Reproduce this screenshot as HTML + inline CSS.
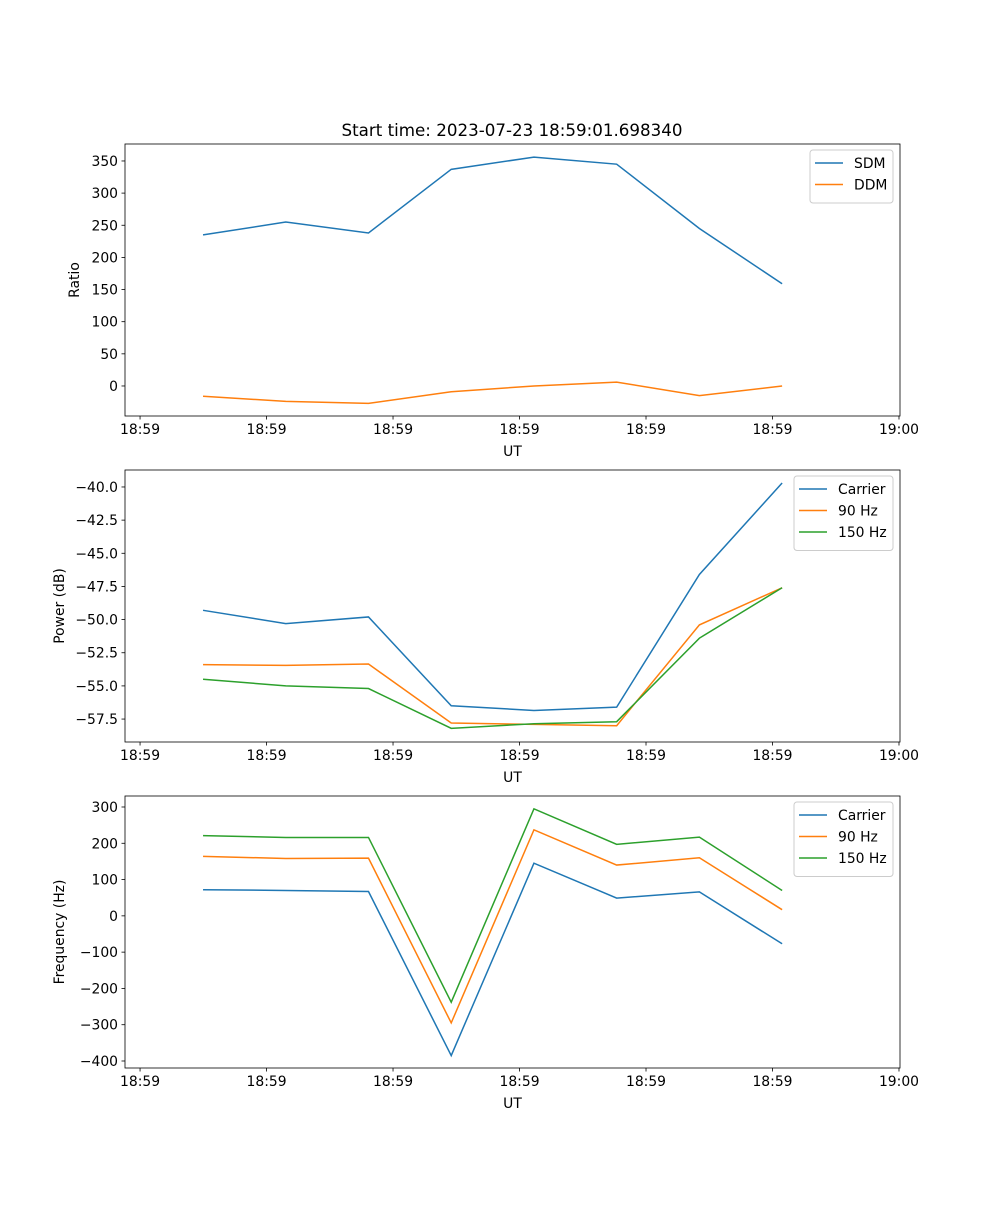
<!DOCTYPE html>
<html><head><meta charset="utf-8">
<style>
body{margin:0;background:#fff;}
svg text{font-family:"DejaVu Sans","Liberation Sans",sans-serif;fill:#000;}
</style></head>
<body>
<svg id="fig" width="1000" height="1200" viewBox="0 0 1000 1200" xmlns="http://www.w3.org/2000/svg">
<text x="512" y="136" font-size="16.7" text-anchor="middle">Start time: 2023-07-23 18:59:01.698340</text>
</svg>
<script>
const times = [4.98, 11.52, 18.06, 24.6, 31.14, 37.68, 44.22, 50.76];
const xTickVals = [0, 10, 20, 30, 40, 50, 60];
const xTickLabels = ["18:59","18:59","18:59","18:59","18:59","18:59","19:00"];
const sdm = [235, 255, 238, 337, 356, 345, 245, 159];
const ddm = [-16, -24, -27, -9, 0, 6, -15, 0];
const powCarrier = [-49.3, -50.3, -49.8, -56.5, -56.85, -56.6, -46.6, -39.7];
const pow90 = [-53.4, -53.45, -53.35, -57.8, -57.9, -58.0, -50.4, -47.6];
const pow150 = [-54.5, -55.0, -55.2, -58.2, -57.85, -57.7, -51.4, -47.6];
const freqCarrier = [72, 70, 67, -385, 145, 49, 66, -77];
const freq90 = [164, 158, 159, -295, 237, 140, 160, 17];
const freq150 = [221, 216, 216, -238, 295, 197, 217, 70];
const ratioTicks = [0, 50, 100, 150, 200, 250, 300, 350];
const powTicks = [-57.5, -55.0, -52.5, -50.0, -47.5, -45.0, -42.5, -40.0];
const freqTicks = [-400, -300, -200, -100, 0, 100, 200, 300];

const NS = "http://www.w3.org/2000/svg";
const svg = document.getElementById('fig');
const L = 125, R = 900;
const xmin = -1.19, xmax = 60.08;
function xs(v){ return L + (v - xmin) / (xmax - xmin) * (R - L); }
function mk(tag, attrs, parent){ const e = document.createElementNS(NS, tag); for (const k in attrs) e.setAttribute(k, attrs[k]); (parent||svg).appendChild(e); return e; }
const C = ['#1f77b4', '#ff7f0e', '#2ca02c'];

function panel(name, top, bot, ymin, ymax, yticks, ytickFmt, ylabel, series, labels, legX){
  const g = mk('g', {});
  
  
  const ys = v => bot - (v - ymin) / (ymax - ymin) * (bot - top);
  series.forEach((s, si) => {
    const pts = s.map((v, i) => xs(times[i]).toFixed(2) + ',' + ys(v).toFixed(2)).join(' ');
    const pl = mk('polyline', {points: pts, fill: 'none', stroke: C[si], 'stroke-width': 1.5}, g);
    
    
  });
  const fr = mk('rect', {x: L, y: top, width: R - L, height: bot - top, fill: 'none', stroke: '#000', 'stroke-width': 0.8}, g);
  
  
  xTickVals.forEach((v, i) => {
    const x = xs(v);
    mk('line', {x1: x, x2: x, y1: bot, y2: bot + 3.5, stroke: '#000', 'stroke-width': 0.8}, g);
    const t = mk('text', {x: x, y: bot + 18, 'font-size': 13.9, 'text-anchor': 'middle'}, g);
    t.textContent = xTickLabels[i];
    
    
  });
  const xl = mk('text', {x: (L + R) / 2, y: bot + 40, 'font-size': 13.9, 'text-anchor': 'middle'}, g);
  xl.textContent = 'UT';
  
  
  yticks.forEach(v => {
    const y = ys(v);
    mk('line', {x1: L, x2: L - 3.5, y1: y, y2: y, stroke: '#000', 'stroke-width': 0.8}, g);
    const t = mk('text', {x: L - 7, y: y + 5, 'font-size': 13.9, 'text-anchor': 'end'}, g);
    t.textContent = ytickFmt(v);
    
    
  });
  const yl = mk('text', {x: 0, y: 0, 'font-size': 13.9, 'text-anchor': 'middle', transform: 'translate(' + (L - (ylabel === 'Ratio' ? 46 : 61)) + ',' + ((top + bot) / 2) + ') rotate(-90)'}, g);
  yl.textContent = ylabel;
  
  
  const lg = mk('g', {}, g);
  
  
  const lh = 10 + labels.length * 21.5;
  mk('rect', {x: legX, y: top + 6, width: 893 - legX, height: lh, rx: 3, fill: '#fff', 'fill-opacity': 0.8, stroke: '#ccc', 'stroke-width': 1}, lg);
  labels.forEach((lab, i) => {
    const y = top + 19 + i * 21.5;
    mk('line', {x1: legX + 5, x2: legX + 33, y1: y, y2: y, stroke: C[i], 'stroke-width': 1.5}, lg);
    const t = mk('text', {x: legX + 44, y: y + 5, 'font-size': 13.9}, lg);
    t.textContent = lab;
    
    
  });
}

panel('ratio', 144, 416, -46.7, 376.4, ratioTicks, v => String(v), 'Ratio', [sdm, ddm], ['SDM', 'DDM'], 810);
panel('power', 470, 742, -59.23, -38.72, powTicks, v => (v < 0 ? '\u2212' : '') + Math.abs(v).toFixed(1), 'Power (dB)', [powCarrier, pow90, pow150], ['Carrier', '90 Hz', '150 Hz'], 794);
panel('frequency', 796, 1068, -419.3, 330.3, freqTicks, v => (v < 0 ? '\u2212' : '') + Math.abs(v), 'Frequency (Hz)', [freqCarrier, freq90, freq150], ['Carrier', '90 Hz', '150 Hz'], 794);
</script>
</body></html>
